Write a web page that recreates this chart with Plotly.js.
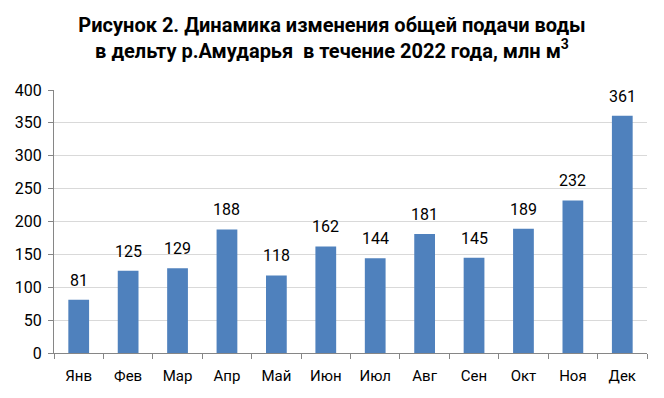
<!DOCTYPE html>
<html><head><meta charset="utf-8">
<script src="https://cdn.plot.ly/plotly-3.0.1.min.js"></script>
<style>body{margin:0}#chart{width:664px;height:398px}</style>
</head><body><div id="chart"></div>
<script>
var months = ["Янв","Фев","Мар","Апр","Май","Июн","Июл","Авг","Сен","Окт","Ноя","Дек"];
var supply = [81,125,129,188,118,162,144,181,145,189,232,361];
var yTicks = [0,50,100,150,200,250,300,350,400];

var font = "Roboto, 'Noto Sans', sans-serif";
var labels = months.map(function(m, i){
  return {x: m, y: supply[i], xref: "x", yref: "y", text: String(supply[i]), showarrow: false,
    yanchor: "bottom", yshift: 8, font: {family: font, size: 16, color: "#000"}};
});
Plotly.newPlot("chart", [{
  type: "bar", x: months, y: supply,
  marker: {color: "#4F81BD"},
  width: 0.42, hoverinfo: "none"
}], {
  width: 664, height: 398,
  margin: {l: 54, r: 17, t: 90, b: 45},
  paper_bgcolor: "#fff", plot_bgcolor: "#fff",
  annotations: labels,
  title: {text: "<b>Рисунок 2. Динамика изменения общей подачи воды<br>в дельту р.Амударья  в течение 2022 года, млн м<sup>3</sup></b>",
    font: {family: font, size: 20, color: "#000"}, x: 0.5, xanchor: "center", y: 0.92, yanchor: "top"},
  showlegend: false,
  xaxis: {type: "category", tickson: "boundaries", ticks: "outside", ticklen: 5, tickcolor: "#868686",
    showline: true, linecolor: "#868686", linewidth: 1, showgrid: false, ticklabelstandoff: 9,
    tickfont: {family: font, size: 15, color: "#000"}, fixedrange: true},
  yaxis: {range: [0, 400], tickvals: yTicks, ticks: "outside", ticklen: 5, tickcolor: "#868686",
    showline: true, linecolor: "#868686", linewidth: 1, showgrid: true, gridcolor: "#D9D9D9",
    ticklabelstandoff: 3,
    zeroline: false, tickfont: {family: font, size: 16, color: "#000"}, fixedrange: true}
}, {staticPlot: true});
</script></body></html>
